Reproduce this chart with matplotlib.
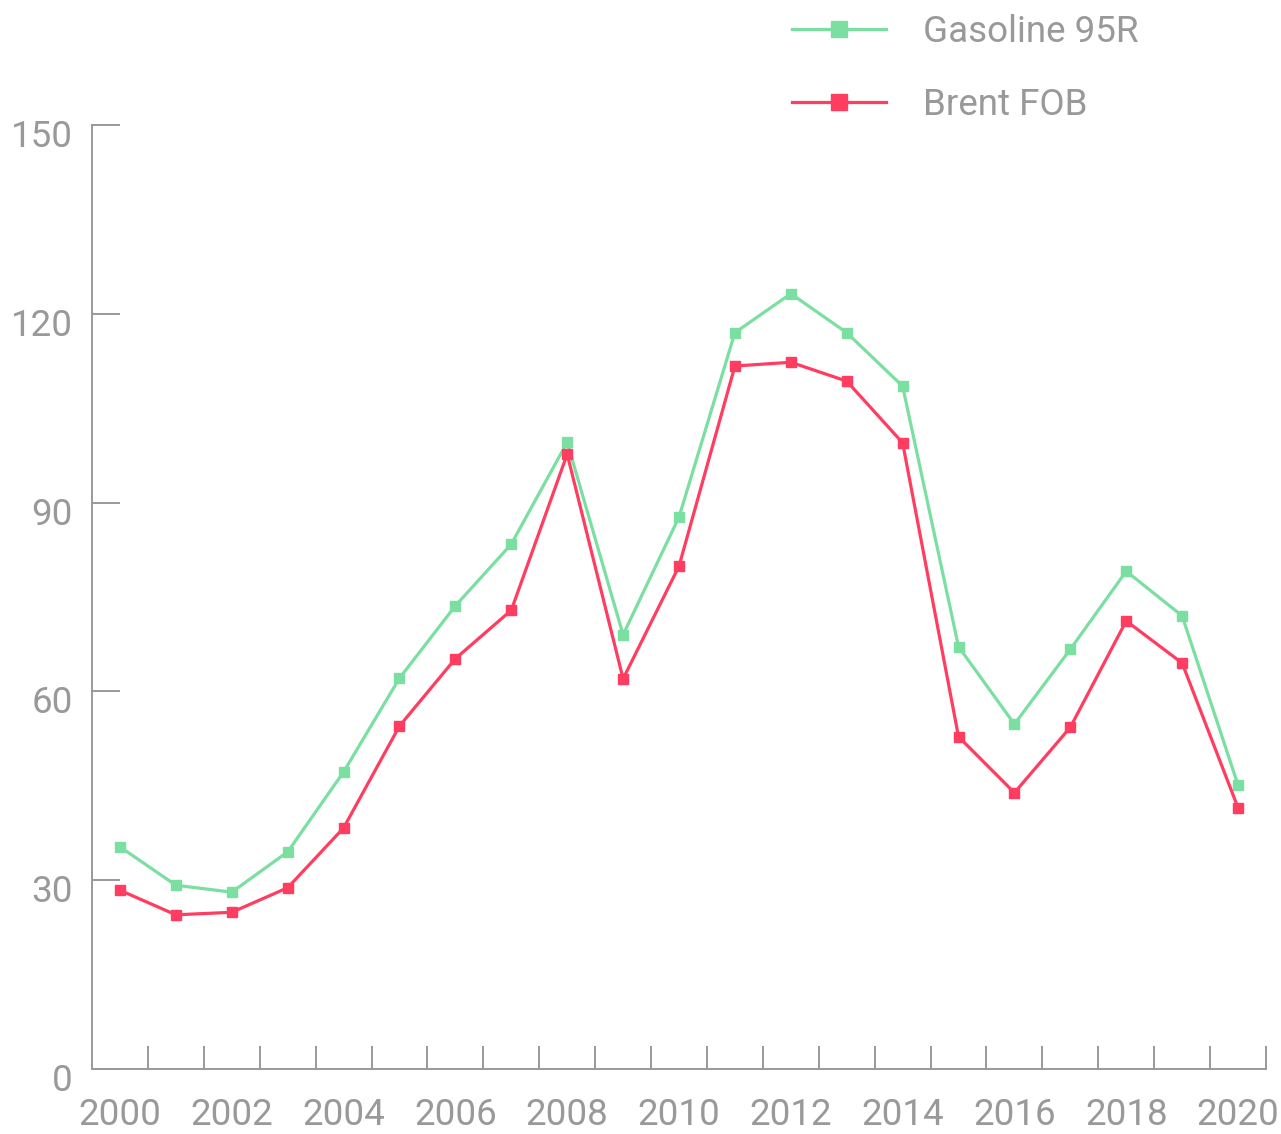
import matplotlib.pyplot as plt
import matplotlib.transforms as mtransforms
import numpy as np
from matplotlib.ticker import MultipleLocator, FixedLocator

plt.rcParams['font.family'] = ['Roboto', 'DejaVu Sans']

years = list(range(2000, 2021))
gasoline = [35.3, 29.2, 28.1, 34.5, 47.2, 62.1, 73.6, 83.4, 99.6, 69.0, 87.7,
            117.0, 123.2, 117.0, 108.5, 67.1, 54.8, 66.7, 79.1, 72.0, 45.1]
brent = [28.4, 24.5, 24.9, 28.8, 38.3, 54.5, 65.2, 72.9, 97.7, 62.0, 79.9,
         111.7, 112.3, 109.3, 99.5, 52.8, 43.9, 54.3, 71.2, 64.5, 41.5]
labels = ['Gasoline 95R', 'Brent FOB']

green = '#7ADFA0'
red = '#FF3D60'
grey = '#999999'

fig = plt.figure(figsize=(12.81, 11.34), dpi=100)
ax = fig.add_axes([92/1281, 1-1069/1134, (1266-92)/1281, (1069-125)/1134])

ax.plot(years, gasoline, color=green, lw=2.3, marker='s', ms=7, label=labels[0])
ax.plot(years, brent, color=red, lw=2.3, marker='s', ms=7, label=labels[1])

ax.set_xlim(1999.5, 2020.5)
ax.set_ylim(0, 150)

ax.spines['top'].set_visible(False)
ax.spines['right'].set_visible(False)
for s in ['left', 'bottom']:
    ax.spines[s].set_color(grey)
    ax.spines[s].set_linewidth(1.4)

ax.xaxis.set_major_locator(FixedLocator(years[::2]))
ax.xaxis.set_minor_locator(FixedLocator(np.arange(2000.5, 2021, 1)))
ax.yaxis.set_major_locator(MultipleLocator(30))

ax.tick_params(axis='x', which='major', length=0, pad=20, labelsize=26.5, labelcolor=grey)
ax.tick_params(axis='x', which='minor', direction='in', length=16.5, width=1.4, color=grey)
ax.tick_params(axis='y', which='major', direction='in', length=20, width=1.4, color=grey,
               pad=14, labelsize=26.5, labelcolor=grey)

# y labels sit a little below their ticks in the original
shift = mtransforms.ScaledTranslation(0, -0.08, fig.dpi_scale_trans)
for lab in ax.get_yticklabels():
    lab.set_transform(lab.get_transform() + shift)

leg = fig.legend(loc='upper left', bbox_to_anchor=(792/1281, 1-14/1134), frameon=False,
                 fontsize=26.5, handlelength=2.55, handletextpad=1.0, labelspacing=1.0,
                 borderpad=0, borderaxespad=0, markerscale=1.6)
for t in leg.get_texts():
    t.set_color(grey)

fig.savefig('out.png', dpi=100)
